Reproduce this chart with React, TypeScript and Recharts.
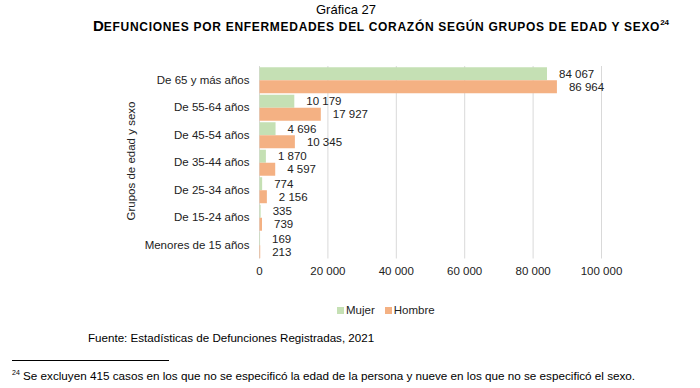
import React from 'react';
import { BarChart, Bar, XAxis, YAxis, CartesianGrid, LabelList } from 'recharts';

const categories = [
  'De 65 y más años',
  'De 55-64 años',
  'De 45-54 años',
  'De 35-44 años',
  'De 25-34 años',
  'De 15-24 años',
  'Menores de 15 años',
];
const mujer = [84067, 10179, 4696, 1870, 774, 335, 169];
const hombre = [86964, 17927, 10345, 4597, 2156, 739, 213];
const xTicks = [0, 20000, 40000, 60000, 80000, 100000];

const data = categories.map((name, i) => ({ name, mujer: mujer[i], hombre: hombre[i] }));

const fmt = (v: number) => String(v).replace(/\B(?=(\d{3})+(?!\d))/g, ' ');

const GREEN = '#C5E0B4';
const ORANGE = '#F4B183';
const FONT = '"Liberation Sans", Arial, sans-serif';

export default function App() {
  return (
    <div style={{ position: 'absolute', left: 0, top: 0, width: 700, height: 388, background: '#fff', fontFamily: FONT, color: '#000', overflow: 'hidden' }}>
      {/* Titles */}
      <div style={{ position: 'absolute', left: 0, width: 692, top: 2, textAlign: 'center', fontSize: 13 }}>Gráfica 27</div>
      <div style={{ position: 'absolute', left: 93, top: 17, whiteSpace: 'nowrap', fontWeight: 'bold' }}>
        <span style={{ fontSize: 15 }}>D</span>
        <span style={{ fontSize: 12, letterSpacing: 0.7 }}>EFUNCIONES POR ENFERMEDADES DEL CORAZÓN SEGÚN GRUPOS DE EDAD Y SEXO</span>
        <sup style={{ fontSize: 8 }}>24</sup>
      </div>

      {/* Axis title */}
      <div style={{ position: 'absolute', left: 131, top: 161, transform: 'translate(-50%, -50%) rotate(-90deg)', whiteSpace: 'nowrap', fontSize: 11.5, color: '#222' }}>
        Grupos de edad y sexo
      </div>

      <BarChart
        width={700}
        height={388}
        data={data}
        layout="vertical"
        margin={{ top: 66, right: 98.5, left: 0, bottom: 99.5 }}
        barCategoryGap="4.5%"
        barGap={0}
      >
        <CartesianGrid horizontal={false} stroke="#d9d9d9" />
        <XAxis
          type="number"
          domain={[0, 100000]}
          ticks={xTicks}
          tickFormatter={fmt}
          axisLine={false}
          tickLine={false}
          tick={{ fill: '#222', fontSize: 11.5, fontFamily: FONT }}
          height={30}
        />
        <YAxis
          type="category"
          dataKey="name"
          width={259.5}
          axisLine={false}
          tickLine={false}
          tickMargin={4}
          tick={{ fill: '#222', fontSize: 11.5, fontFamily: FONT }}
        />
        <Bar dataKey="mujer" name="Mujer" fill={GREEN} isAnimationActive={false}>
          <LabelList dataKey="mujer" position="right" offset={12} formatter={(v: any) => fmt(Number(v))} style={{ fill: '#222', fontSize: 11.5, fontFamily: FONT }} />
        </Bar>
        <Bar dataKey="hombre" name="Hombre" fill={ORANGE} isAnimationActive={false}>
          <LabelList dataKey="hombre" position="right" offset={12} formatter={(v: any) => fmt(Number(v))} style={{ fill: '#222', fontSize: 11.5, fontFamily: FONT }} />
        </Bar>
      </BarChart>

      {/* Legend */}
      <div style={{ position: 'absolute', left: 337, top: 304, display: 'flex', alignItems: 'center', fontSize: 11.5, color: '#222' }}>
        <span style={{ width: 7, height: 7, background: GREEN, display: 'inline-block', marginRight: 2 }} />
        <span style={{ marginRight: 10 }}>Mujer</span>
        <span style={{ width: 7, height: 7, background: ORANGE, display: 'inline-block', marginRight: 2 }} />
        <span>Hombre</span>
      </div>

      {/* Source and footnote */}
      <div style={{ position: 'absolute', left: 88, top: 331, fontSize: 11.6 }}>Fuente: Estadísticas de Defunciones Registradas, 2021</div>
      <div style={{ position: 'absolute', left: 12, top: 360, width: 157, borderTop: '1px solid #000' }} />
      <div style={{ position: 'absolute', left: 12, top: 369, fontSize: 11.7, whiteSpace: 'nowrap' }}>
        <sup style={{ fontSize: 7 }}>24</sup> Se excluyen 415 casos en los que no se especificó la edad de la persona y nueve en los que no se especificó el sexo.
      </div>
    </div>
  );
}
